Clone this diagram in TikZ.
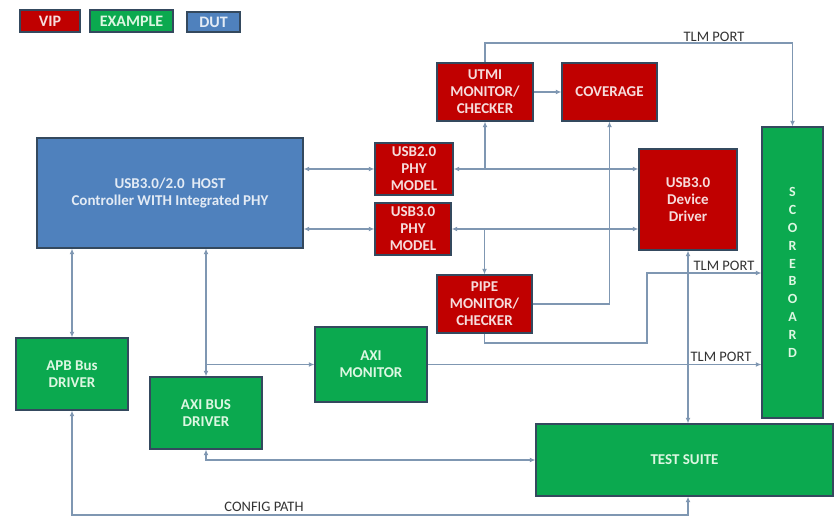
\documentclass[tikz,border=0pt]{standalone}
\usepackage{fontspec}
\setmainfont{Carlito}
\usetikzlibrary{arrows.meta}
\definecolor{vipred}{HTML}{C00000}
\definecolor{exgreen}{HTML}{0BA94F}
\definecolor{dutblue}{HTML}{4F81BD}
\definecolor{boxedge}{HTML}{34495E}
\definecolor{wire}{HTML}{7F97B2}
\definecolor{redtext}{HTML}{F6DCDC}
\definecolor{greentext}{HTML}{DDF7E2}
\definecolor{bluetext}{HTML}{E3EBF5}
\definecolor{labeltext}{HTML}{333333}
\tikzset{
  box/.style={draw=boxedge, line width=1.4pt, inner sep=1pt, align=center,
    font=\fontsize{15}{17}\selectfont\bfseries},
  vip/.style={box, fill=vipred, text=redtext},
  ex/.style={box, fill=exgreen, text=greentext},
  dut/.style={box, fill=dutblue, text=bluetext},
  legendbox/.style={font=\fontsize{16}{18}\selectfont\bfseries},
  wirearr/.style={draw=wire, line width=1.1pt, -{Latex[length=5.5pt,width=5pt]}},
  wiredbl/.style={draw=wire, line width=1.1pt, {Latex[length=5.5pt,width=5pt]}-{Latex[length=5.5pt,width=5pt]}},
  lbl/.style={text=labeltext, font=\fontsize{14.5}{16}\selectfont, inner sep=0pt}
}
\begin{document}
\begin{tikzpicture}[x=1pt,y=-1pt]
\useasboundingbox[fill=white] (0,0) rectangle (835,518);
% legend
\node[vip, legendbox, minimum width=60pt, minimum height=22pt] (vipL) at (50,21) {VIP};
\node[ex, legendbox, minimum width=83pt, minimum height=22pt] (exL) at (131.5,21) {EXAMPLE};
\node[dut, legendbox, minimum width=53pt, minimum height=20pt] (dutL) at (213.5,22) {DUT};
% boxes
\node[dut, minimum width=266pt, minimum height=110pt] (host) at (170,193) {USB3.0/2.0\ \ HOST\\Controller WITH Integrated PHY};
\node[vip, minimum width=78pt, minimum height=52pt] (phy2) at (414,169) {USB2.0\\PHY\\MODEL};
\node[vip, minimum width=76pt, minimum height=52pt] (phy3) at (413,229) {USB3.0\\PHY\\MODEL};
\node[vip, minimum width=96pt, minimum height=58pt] (utmi) at (485,92) {UTMI\\MONITOR/\\CHECKER};
\node[vip, minimum width=95pt, minimum height=58pt] (cov) at (609.5,92) {COVERAGE};
\node[vip, minimum width=98pt, minimum height=101pt] (dd) at (688,199.5) {USB3.0\\Device\\Driver};
\node[ex, minimum width=61pt, minimum height=291pt, font=\fontsize{14}{17.8}\selectfont\bfseries] (sb) at (792.5,272.5) {S\\C\\O\\R\\E\\B\\O\\A\\R\\D};
\node[vip, minimum width=95pt, minimum height=58pt] (pipe) at (484.5,304) {PIPE\\MONITOR/\\CHECKER};
\node[ex, minimum width=112pt, minimum height=75pt] (axim) at (371,364.5) {AXI\\MONITOR};
\node[ex, minimum width=112pt, minimum height=72pt] (apb) at (72,374) {APB Bus\\DRIVER};
\node[ex, minimum width=112pt, minimum height=72pt] (axid) at (206,413) {AXI BUS\\DRIVER};
\node[ex, minimum width=297pt, minimum height=72pt] (ts) at (684.5,460) {TEST SUITE};
% connectors
\draw[wiredbl] (phy2.west -| host.east) -- (phy2.west);
\draw[wiredbl] (phy3.west -| host.east) -- (phy3.west);
\draw[wiredbl] (phy2.east) -- (phy2.east -| dd.west);
\draw[wiredbl] (phy3.east) -- (phy3.east -| dd.west);
\draw[wirearr] (utmi.south |- phy2.east) -- (utmi.south);
\draw[wirearr] (pipe.north |- phy3.east) -- (pipe.north);
\draw[wirearr] (utmi.east) -- (cov.west);
\draw[wirearr] (pipe.east) -| (cov.south);
\coordinate (pbend) at (647,343);
\coordinate (ptop) at (647,273);
\draw[wirearr] (pipe.south) |- (pbend) -- (ptop) -- (sb.west |- ptop);
\draw[wiredbl] (dd.south) -- (dd.south |- ts.north);
\coordinate (utop) at (792.5,43);
\draw[wirearr] (utmi.north) |- (utop) -- (sb.north);
\draw[wirearr] (axim.east) -- (axim.east -| sb.west);
\draw[wiredbl] (apb.north |- host.south) -- (apb.north);
\draw[wiredbl] (axid.north |- host.south) -- (axid.north);
\draw[wirearr] (axid.north |- axim.west) -- (axim.west);
\draw[wiredbl] (axid.south) |- (ts.west);
\coordinate (cfgR) at (688,515);
\coordinate (tsB) at (688,496);
\draw[wiredbl] (apb.south) |- (cfgR) -- (ts.south -| tsB);
% labels
\node[lbl] (l1) at (714,37) {TLM PORT};
\node[lbl] (l2) at (724,265.5) {TLM PORT};
\node[lbl] (l3) at (721,357) {TLM PORT};
\node[lbl] (l4) at (264,507) {CONFIG PATH};
\end{tikzpicture}
\end{document}
